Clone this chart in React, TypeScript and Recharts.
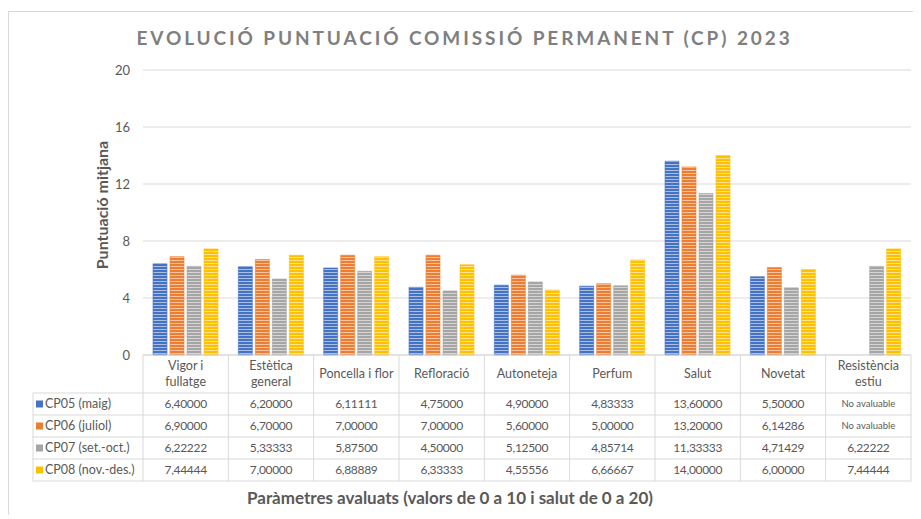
import { BarChart, Bar, XAxis, YAxis, CartesianGrid } from "recharts";

const categories = [
  "Vigor i\nfullatge",
  "Estètica\ngeneral",
  "Poncella i flor",
  "Refloració",
  "Autoneteja",
  "Perfum",
  "Salut",
  "Novetat",
  "Resistència\nestiu",
];

const seriesNames = ["CP05 (maig)", "CP06 (juliol)", "CP07 (set.-oct.)", "CP08 (nov.-des.)"];
const seriesKeys = ["cp05", "cp06", "cp07", "cp08"];
const seriesColors = ["#4472C4", "#ED7D31", "#A5A5A5", "#FFC000"];

const cp05 = [6.4, 6.2, 6.11111, 4.75, 4.9, 4.83333, 13.6, 5.5, null];
const cp06 = [6.9, 6.7, 7.0, 7.0, 5.6, 5.0, 13.2, 6.14286, null];
const cp07 = [6.22222, 5.33333, 5.875, 4.5, 5.125, 4.85714, 11.33333, 4.71429, 6.22222];
const cp08 = [7.44444, 7.0, 6.88889, 6.33333, 4.55556, 6.66667, 14.0, 6.0, 7.44444];

const yTicks = [0, 4, 8, 12, 16, 20];
const missingText = "No avaluable";

const allSeries = [cp05, cp06, cp07, cp08];

const data = categories.map((name, i) => {
  const row: Record<string, string | number | null> = { name };
  seriesKeys.forEach((k, s) => {
    row[k] = allSeries[s][i];
  });
  return row;
});

const FONT = "Lato, 'Open Sans', sans-serif";
const GRID = "#d9d9d9";
const TEXT = "#595959";

const HEADER_H = 38;
const ROW_H = 22;
const LEGEND_W = 110;

const fmt = (v: number | null) =>
  v == null ? missingText : v.toFixed(5).replace(".", ",");

function TableTick(props: any) {
  const { x, y, payload } = props;
  const i: number = payload.index;
  const half: number = payload.offset || 42.67;
  const left = x - half;
  const right = x + half;
  const bottom = y + HEADER_H + ROW_H * seriesKeys.length;
  const lines = String(payload.value).split("\n");
  const lh = 16;
  const firstY = y + HEADER_H / 2 - ((lines.length - 1) * lh) / 2;

  return (
    <g fontFamily={FONT}>
      <line x1={left} x2={left} y1={y} y2={bottom} stroke={GRID} />
      {i === categories.length - 1 && (
        <line x1={right} x2={right} y1={y} y2={bottom} stroke={GRID} />
      )}
      {lines.map((t, k) => (
        <text
          key={k}
          x={x}
          y={firstY + k * lh}
          dy="0.35em"
          textAnchor="middle"
          fontSize={12.5}
          fill={TEXT}
        >
          {t}
        </text>
      ))}
      {seriesKeys.map((_, s) => {
        const top = y + HEADER_H + s * ROW_H;
        const v = allSeries[s][i];
        return (
          <g key={s}>
            <line x1={left} x2={right} y1={top} y2={top} stroke={GRID} />
            <text
              x={x}
              y={top + ROW_H / 2}
              dy="0.35em"
              textAnchor="middle"
              fontSize={v == null ? 9.5 : 12}
              letterSpacing={v == null ? 0 : -0.3}
              fill={TEXT}
            >
              {fmt(v)}
            </text>
          </g>
        );
      })}
      <line x1={left} x2={right} y1={bottom} y2={bottom} stroke={GRID} />
      {i === 0 && (
        <g>
          <line
            x1={left - LEGEND_W}
            x2={left - LEGEND_W}
            y1={y + HEADER_H}
            y2={bottom}
            stroke={GRID}
          />
          {seriesNames.map((name, s) => {
            const top = y + HEADER_H + s * ROW_H;
            return (
              <g key={name}>
                <line x1={left - LEGEND_W} x2={left} y1={top} y2={top} stroke={GRID} />
                <rect
                  x={left - LEGEND_W + 3}
                  y={top + ROW_H / 2 - 3.5}
                  width={7}
                  height={7}
                  fill={seriesColors[s]}
                />
                <text
                  x={left - LEGEND_W + 12}
                  y={top + ROW_H / 2}
                  dy="0.35em"
                  fontSize={12.5}
                  fill={TEXT}
                >
                  {name}
                </text>
              </g>
            );
          })}
          <line x1={left - LEGEND_W} x2={left} y1={bottom} y2={bottom} stroke={GRID} />
        </g>
      )}
    </g>
  );
}

export default function App() {
  return (
    <div
      style={{
        position: "relative",
        top: 3,
        width: 911,
        height: 505,
        border: `1px solid ${GRID}`,
        background: "#fff",
        fontFamily: FONT,
      }}
    >
      <div
        style={{
          position: "absolute",
          top: 16,
          left: 0,
          width: 911,
          textAlign: "center",
          fontSize: 19,
          lineHeight: "19px",
          fontWeight: 700,
          letterSpacing: 2.9,
          color: "#7f7f7f",
          whiteSpace: "nowrap",
        }}
      >
        EVOLUCIÓ PUNTUACIÓ COMISSIÓ PERMANENT (CP) 2023
      </div>
      <BarChart
        width={911}
        height={505}
        data={data}
        margin={{ top: 58, right: 9, left: 0, bottom: 0 }}
        barCategoryGap={10}
        barGap={3}
      >
        <defs>
          {seriesColors.map((c, s) => (
            <pattern
              key={c}
              id={`stripe${s}`}
              width={4}
              height={3}
              patternUnits="userSpaceOnUse"
            >
              <rect width={4} height={3} fill={c} />
              <rect y={2} width={4} height={1} fill="#ffffff" fillOpacity={0.55} />
            </pattern>
          ))}
        </defs>
        <CartesianGrid vertical={false} stroke={GRID} />
        <XAxis
          dataKey="name"
          interval={0}
          height={162}
          tickLine={false}
          tickSize={0}
          tickMargin={0}
          axisLine={{ stroke: GRID }}
          tick={<TableTick />}
        />
        <YAxis
          width={134}
          domain={[0, 20]}
          ticks={yTicks}
          axisLine={false}
          tickLine={false}
          tickMargin={7}
          tick={{ fontSize: 13, fill: TEXT, fontFamily: FONT }}
        />
        {seriesKeys.map((k, s) => (
          <Bar
            key={k}
            dataKey={k}
            name={seriesNames[s]}
            fill={`url(#stripe${s})`}
            stroke={seriesColors[s]}
            strokeWidth={0.6}
            isAnimationActive={false}
          />
        ))}
      </BarChart>
      <div
        style={{
          position: "absolute",
          left: 92,
          top: 193,
          transform: "translate(-50%, -50%) rotate(-90deg)",
          fontSize: 16,
          fontWeight: 700,
          color: TEXT,
          whiteSpace: "nowrap",
        }}
      >
        Puntuació mitjana
      </div>
      <div
        style={{
          position: "absolute",
          left: 441,
          top: 485,
          transform: "translate(-50%, -50%)",
          fontSize: 17,
          fontWeight: 700,
          color: TEXT,
          whiteSpace: "nowrap",
        }}
      >
        Paràmetres avaluats (valors de 0 a 10 i salut de 0 a 20)
      </div>
    </div>
  );
}
